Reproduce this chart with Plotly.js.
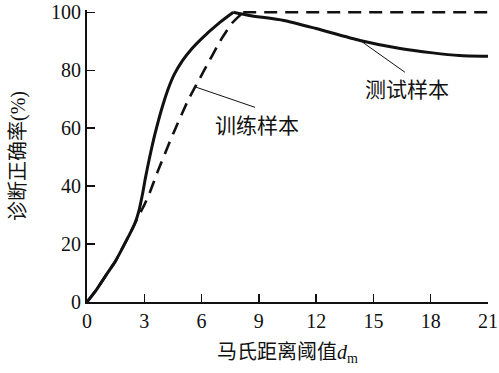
<!DOCTYPE html>
<html>
<head>
<meta charset="utf-8">
<script src="https://cdn.plot.ly/plotly-3.0.1.min.js"></script>
<style>html,body{margin:0;padding:0;background:#fff;}#chart{width:499px;height:373px;}</style>
</head>
<body>
<div id="chart"></div>
<script>
// Test samples (solid): rising part and falling part
const testRiseX = [0, 0.5, 0.94, 1.5, 1.8, 2.25, 2.5, 2.7, 2.9, 3.05, 3.25, 3.56, 3.95, 4.25, 4.55, 5.0, 5.5, 5.95, 6.96, 7.66];
const testRiseY = [0, 4.3, 8.7, 14.2, 17.9, 23.6, 27.0, 31.0, 37.0, 42.5, 49.0, 58.0, 67.5, 73.5, 78.3, 83.3, 87.5, 90.6, 96.5, 100];
const testFallX = [7.66, 8.5, 10.3, 12.0, 14.3, 16.4, 18.1, 19.5, 21];
const testFallY = [100, 98.9, 97.2, 94.4, 90.3, 87.5, 86.0, 85.1, 84.8];
// Training samples (dashed)
const trainRiseX = [0, 0.5, 0.94, 1.5, 1.8, 2.25, 2.5, 2.75, 3.0, 3.3, 3.7, 4.52, 5.3, 6.09, 7.05, 7.6, 8.18];
const trainRiseY = [0, 4.3, 8.7, 14.2, 17.9, 23.6, 27.0, 30.3, 33.5, 38.0, 45.0, 58.2, 69.7, 79.4, 90.9, 96.3, 100];
const trainFlatX = [8.18, 21];
const trainFlatY = [100, 100];

const xTicks = [0, 3, 6, 9, 12, 15, 18, 21];
const yTicks = [0, 20, 40, 60, 80, 100];
const seriesNames = ['测试样本', '训练样本'];
const xTitle = '马氏距离阈值<i>d</i><sub>m</sub>';
const yTitle = '诊断正确率(%)';

const FONT = 'Liberation Serif, Times New Roman, Noto Sans CJK SC, serif';
const CJK = 'Noto Sans CJK SC, Liberation Serif, serif';

const solid = {color: '#111', width: 3, shape: 'spline', smoothing: 0.6};
const dashed = {color: '#111', width: 2.6, dash: '13px,8px', shape: 'spline', smoothing: 0.6};

const traces = [
  {x: testRiseX, y: testRiseY, mode: 'lines', line: solid, name: seriesNames[0], hoverinfo: 'skip'},
  {x: testFallX, y: testFallY, mode: 'lines', line: solid, name: seriesNames[0], hoverinfo: 'skip'},
  {x: trainRiseX, y: trainRiseY, mode: 'lines', line: dashed, name: seriesNames[1], hoverinfo: 'skip'},
  {x: trainFlatX, y: trainFlatY, mode: 'lines', line: Object.assign({}, dashed, {shape: 'linear'}), name: seriesNames[1], hoverinfo: 'skip'}
];

const layout = {
  width: 499, height: 373,
  margin: {l: 87, r: 11, t: 10, b: 71},
  paper_bgcolor: '#fff', plot_bgcolor: '#fff',
  showlegend: false,
  font: {family: FONT, size: 20, color: '#111'},
  xaxis: {
    range: [0, 21], tickvals: xTicks, ticktext: xTicks.map(String),
    ticks: 'inside', ticklen: 8, tickwidth: 1.5, tickcolor: '#111',
    showline: true, linewidth: 2, linecolor: '#111', showgrid: false, zeroline: false,
    tickfont: {family: FONT, size: 20, color: '#111'},
    title: {text: xTitle, font: {family: FONT, size: 20, color: '#111'}, standoff: 14},
    automargin: false
  },
  yaxis: {
    range: [0, 100.8], tickvals: yTicks, ticktext: yTicks.map(String),
    ticks: 'inside', ticklen: 8, tickwidth: 1.5, tickcolor: '#111',
    showline: true, linewidth: 2, linecolor: '#111', showgrid: false, zeroline: false,
    tickfont: {family: FONT, size: 20, color: '#111'},
    title: {text: yTitle, font: {family: FONT, size: 20, color: '#111'}, standoff: 20},
    automargin: false
  },
  shapes: [
    {type: 'line', xref: 'x', yref: 'y', x0: 5.65, y0: 74.3, x1: 8.8, y1: 67.2, line: {color: '#111', width: 1}},
    {type: 'line', xref: 'x', yref: 'y', x0: 14.3, y0: 90.3, x1: 16.65, y1: 79.3, line: {color: '#111', width: 1}}
  ],
  annotations: [
    {x: 8.9, y: 61.4, xref: 'x', yref: 'y', text: seriesNames[1], showarrow: false, font: {family: CJK, size: 21, color: '#111'}},
    {x: 16.75, y: 73.8, xref: 'x', yref: 'y', text: seriesNames[0], showarrow: false, font: {family: CJK, size: 21, color: '#111'}}
  ]
};

Plotly.newPlot('chart', traces, layout, {staticPlot: true, displayModeBar: false});
</script>
</body>
</html>
